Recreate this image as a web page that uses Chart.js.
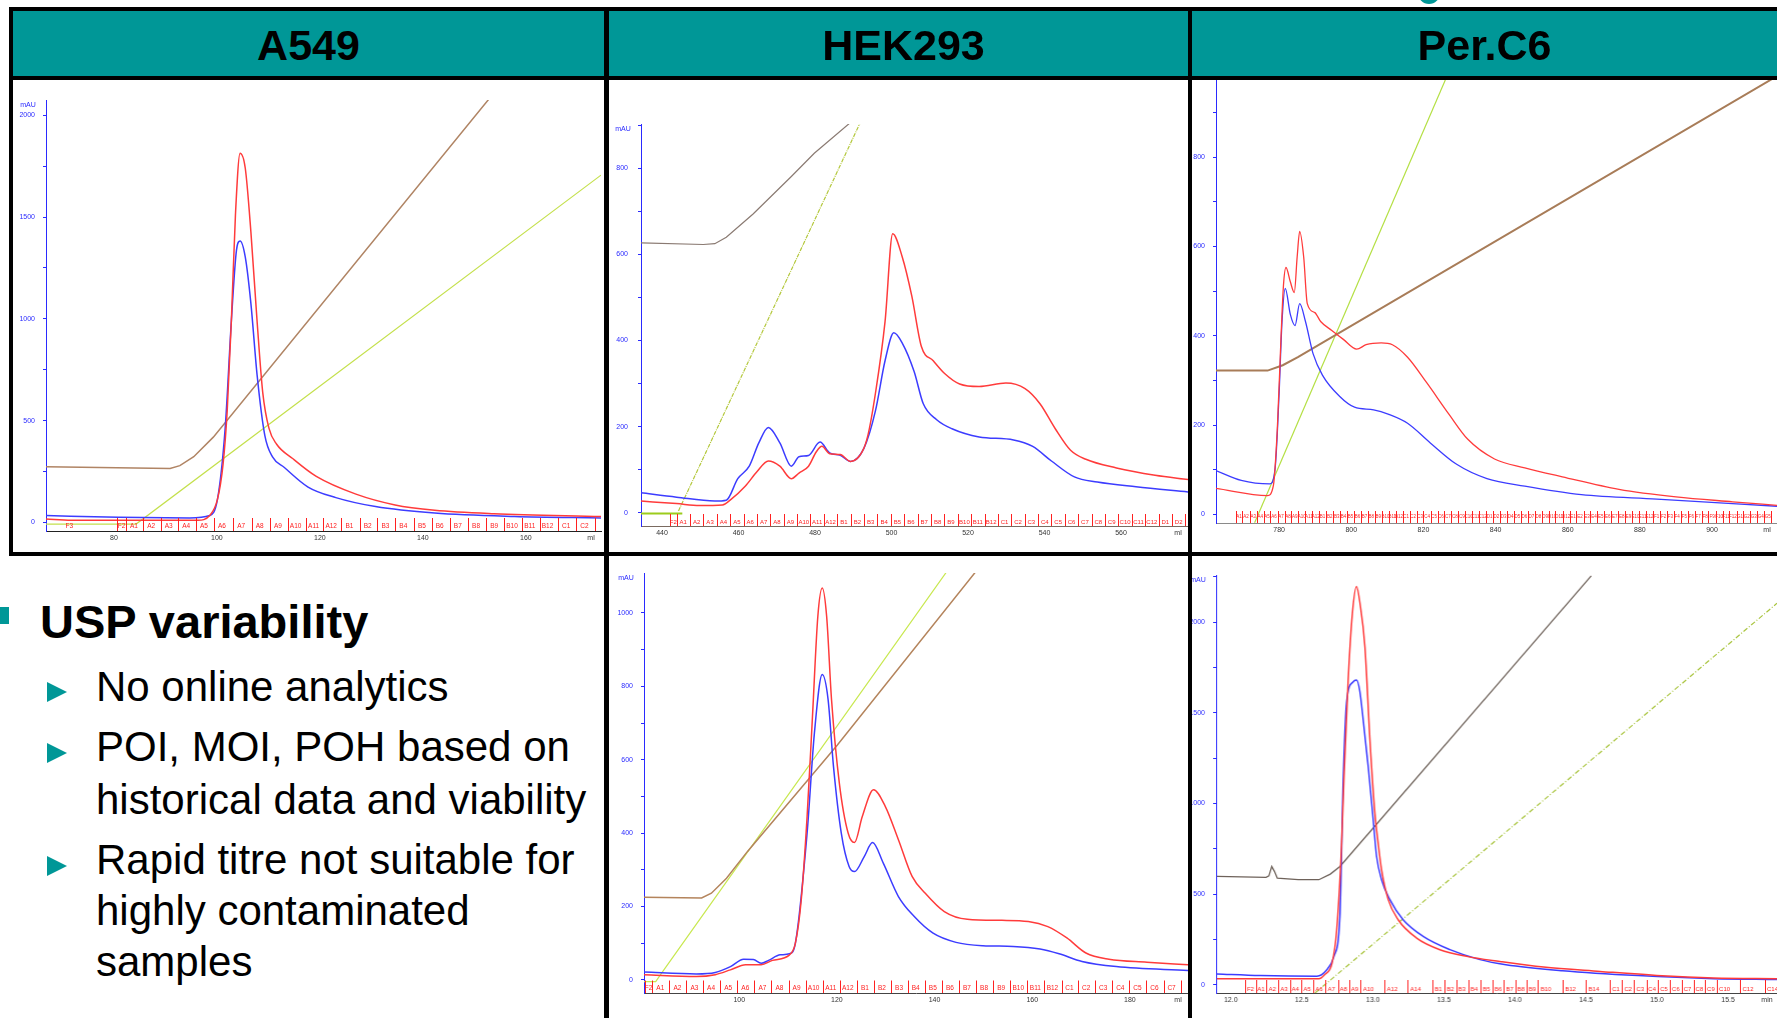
<!DOCTYPE html>
<html>
<head>
<meta charset="UTF-8">
<title>USP variability - chromatograms</title>
<script src="https://cdn.jsdelivr.net/npm/chart.js@4.4.1/dist/chart.umd.min.js"></script>
<style>
  body { margin: 0; width: 1777px; height: 1018px; overflow: hidden; background: #fff; position: relative;
         font-family: 'Liberation Sans', Arial, sans-serif; }
  canvas { position: absolute; z-index: 1; }
  .hdr { position: absolute; left: 13px; top: 11px; width: 1764px; height: 65px; background: #009797; z-index: 2; }
  .ln { position: absolute; background: #000; z-index: 3; }
  .ttl { position: absolute; top: 13px; height: 65px; line-height: 65px; font-size: 43px; font-weight: bold;
         text-align: center; z-index: 4; color: #000; }
  .dot { position: absolute; left: 1418px; top: -18px; width: 22px; height: 22px; border-radius: 50%; background: #009797; }
  .sq { position: absolute; left: 0; top: 607px; width: 9px; height: 17px; background: #009797; }
  .h1 { position: absolute; left: 40px; top: 598px; font-size: 47px; line-height: 47px; font-weight: bold; white-space: nowrap; }
  .tx { position: absolute; left: 96px; font-size: 42px; line-height: 42px; white-space: nowrap; }
  .tri { position: absolute; left: 47px; width: 0; height: 0; border-left: 20px solid #009797;
         border-top: 10px solid transparent; border-bottom: 10px solid transparent; }
</style>
</head>
<body>
<div class="dot"></div>
<canvas id="cA549"></canvas>
<canvas id="cHekTop"></canvas>
<canvas id="cPerTop"></canvas>
<canvas id="cHekBot"></canvas>
<canvas id="cPerBot"></canvas>

<div class="hdr"></div>
<div class="ttl" style="left:13px;width:591px">A549</div>
<div class="ttl" style="left:614px;width:579px">HEK293</div>
<div class="ttl" style="left:1192px;width:585px">Per.C6</div>

<div class="ln" style="left:9px;top:7px;width:1768px;height:4px"></div>
<div class="ln" style="left:9px;top:76px;width:1768px;height:4px"></div>
<div class="ln" style="left:9px;top:7px;width:4px;height:549px"></div>
<div class="ln" style="left:604px;top:7px;width:5px;height:1011px"></div>
<div class="ln" style="left:1188px;top:7px;width:4px;height:1011px"></div>
<div class="ln" style="left:9px;top:552px;width:1768px;height:4px"></div>

<div class="sq"></div>
<div class="h1">USP variability</div>
<div class="tri" style="top:682px"></div>
<div class="tri" style="top:743px"></div>
<div class="tri" style="top:856px"></div>
<div class="tx" style="top:666px">No online analytics</div>
<div class="tx" style="top:726px">POI, MOI, POH based on</div>
<div class="tx" style="top:779px">historical data and viability</div>
<div class="tx" style="top:839px">Rapid titre not suitable for</div>
<div class="tx" style="top:890px">highly contaminated</div>
<div class="tx" style="top:941px">samples</div>

<script>
// ---- A549 (ml vs mAU) ----
var a549Red = [[66.8,17],[71.7,11],[96.3,11],[98.6,34],[100.1,113],[101.2,288],[102,550],[102.8,988],[103.6,1513],
  [104.5,1814],[105.5,1741],[106.6,1426],[107.8,988],[108.9,638],[110.1,463],[111.6,384],[114.7,314],[119.3,226],
  [127,139],[134.6,86],[142.3,60],[153.8,43],[174.6,29]]
var a549Blue = [[66.8,34],[80.9,25],[94.7,22],[98.6,34],[100.1,113],[101.6,463],[102.8,988],[103.8,1338],[104.5,1382],
  [105.5,1304],[106.6,1075],[107.8,725],[109.3,428],[110.8,322],[113.1,270],[117.7,174],[123.1,122],[130.8,78],
  [142.3,46],[157.8,29],[174.6,22]]
var a549Cond = [[66.8,274],[90.9,265],[92.8,279],[95.5,323],[99.3,419],[153,2085]]
var a549Conc = [[66.8,-8],[84.3,-8],[174.6,1706]]
var a549XTicks = [80,100,120,140,160]
var a549YTicks = [0,250,500,750,1000,1250,1500,1750,2000]
var a549YLabels = [0,500,1000,1500,2000]
var a549FracAt = [62,80.64,82.33,85.69,89.07,92.49,95.92,99.42,103.17,106.74,110.29,113.73,117.22,120.64,124.19,127.73,
  131.18,134.64,138.25,141.71,145.24,148.78,152.31,155.77,159.22,162.66,166.27,169.81,173.34]
var a549FracLabels = ['F3','F2','A1','A2','A3','A4','A5','A6','A7','A8','A9','A10','A11','A12','B1','B2','B3','B4','B5',
  'B6','B7','B8','B9','B10','B11','B12','C1','C2','C3']

// ---- HEK293 top ----
var hekTopRed = [[434.5,27],[443.8,21],[449.8,16.5],[455.8,18],[457.8,29],[461.8,62],[464.8,95],[467.8,120],[470.8,108],
  [473.8,79],[475.8,92],[478.3,108],[480.3,141],[481.8,154],[483.8,137],[486.6,135],[489.3,119],[492.3,141],[493.8,179],
  [495.8,278],[498.3,444],[500.3,648],[502.8,594],[505.3,503],[507.8,386],[510.9,353],[513.8,324],[517.8,299],[522.9,293],
  [529.9,301],[534.9,288],[538.8,253],[542.8,195],[546.8,145],[550.8,124],[558.8,104],[568.9,87],[577.5,77]]
var hekTopBlue = [[434.5,46],[443.8,36],[453.8,27],[456.8,29],[459.8,79],[462.8,108],[465.3,162],[467.8,198],[470.8,162],
  [473.8,108],[475.8,130],[478.3,133],[481.3,164],[483.8,139],[486.6,133],[489.3,119],[492.8,150],[495.8,237],[498.3,353],
  [500.6,418],[502.8,394],[505.9,328],[508.3,253],[511.8,216],[515.8,195],[522.9,176],[531.9,169],[536.9,154],[541.8,120],
  [547.8,83],[553.8,71],[563.9,60],[577.5,48]]
var hekTopCond = [[434.5,627],[450.8,623],[453.8,625],[456.8,640],[463.8,694],[473.8,781],[479.8,835],[489.2,906]]
var hekTopBase = [[434.5,-2],[445.3,-2]]
var hekTopConc = [[444.3,4],[491.8,906]]
var hekTopXTicks = [440,460,480,500,520,540,560]
var hekTopYTicks = [0,100,200,300,400,500,600,700,800,900]
var hekTopYLabels = [0,200,400,600,800]
var hekTopFracAt = [442.1,443.8,447.3,450.8,454.3,457.8,461.3,464.8,468.3,471.8,475.3,478.8,482.3,485.8,489.3,492.8,
  496.3,499.8,503.3,506.8,510.3,513.8,517.3,520.8,524.3,527.8,531.3,534.8,538.3,541.8,545.3,548.8,552.3,555.8,559.3,
  562.8,566.3,569.8,573.3,576.8]
var hekTopFracLabels = ['F2','A1','A2','A3','A4','A5','A6','A7','A8','A9','A10','A11','A12','B1','B2','B3','B4','B5',
  'B6','B7','B8','B9','B10','B11','B12','C1','C2','C3','C4','C5','C6','C7','C8','C9','C10','C11','C12','D1','D2','D3']

// ---- Per.C6 top ----
var perTopRed = [[762.5,58],[776.8,42],[778.4,64],[779.5,192],[780.5,392],[781.2,513],[781.9,553],[783.1,521],[784.2,497],
  [785,577],[785.7,634],[786.8,577],[787.8,472],[789.9,452],[791.5,432],[794.6,412],[797.8,392],[801.5,370],[804.1,380],
  [808.3,384],[811.4,380],[815.6,352],[820.8,296],[827.1,224],[832.3,168],[839.7,124],[848.1,104],[858.5,84],[874.2,56],
  [890,39],[905.7,28],[918,20]]
var perTopBlue = [[762.5,98],[769.5,76],[777.4,68],[778.9,104],[780,272],[780.8,432],[781.7,506],[783.1,448],[784.4,423],
  [785.7,472],[787.3,432],[789.4,360],[792,312],[796.8,264],[800.9,240],[806.2,234],[810.4,224],[815.6,204],[821.9,160],
  [829.2,112],[837.6,80],[848.1,63],[863.8,44],[884.7,34],[918,18]]
var perTopCond = [[762.5,322],[776.8,322],[781,334],[785.2,352],[918,982]]
var perTopConc = [[773.2,-19],[828.5,1019]]
var perTopXTicks = [780,800,820,840,860,880,900]
var perTopYTicks = [0,100,200,300,400,500,600,700,800,900,1000]
var perTopYLabels = [0,200,400,600,800,1000]
var perTopFracAt = [768.0,769.8,771.9,773.8,775.7,777.6,779.6,781.5,783.4,785.3,
  787.3,789.2,791.1,793.0,795.0,796.9,798.8,800.8,802.7,804.6,
  806.5,808.5,810.4,812.3,814.2,816.2,818.1,820.0,822.0,823.9,
  825.8,827.7,829.7,831.6,833.5,835.4,837.4,839.3,841.2,843.2,
  845.1,847.0,848.9,850.9,852.8,854.7,856.6,858.6,860.5,862.4,
  864.4,866.3,868.2,870.1,872.1,874.0,875.9,877.8,879.8,881.7,
  883.6,885.6,887.5,889.4,891.3,893.3,895.2,897.1,899.0,901.0,
  902.9,904.8,906.8,908.7,910.6,912.5,914.5,916.4]
var perTopFracLabels = ('A1 A2 A3 A4 A5 A6 A7 A8 A9 A10 A11 A12 B1 B2 B3 B4 B5 B6 B7 B8 B9 B10 B11 B12 ' +
  'C1 C2 C3 C4 C5 C6 C7 C8 C9 C10 C11 C12 D1 D2 D3 D4 D5 D6 D7 D8 D9 D10 D11 D12 ' +
  'E1 E2 E3 E4 E5 E6 E7 E8 E9 E10 E11 E12 F1 F2 F3 F4 F5 F6 F7 F8 F9 F10 F11 F12 G1 G2 G3 G4 G5 G6').split(' ')

// ---- HEK293 bottom ----
var hekBotRed = [[80.5,14],[91.2,9],[95.1,14],[98.2,27],[101.3,41],[104.5,41],[106.8,53],[110.3,68],[111.5,100],
  [112.7,218],[113.9,445],[115,718],[116.1,991],[117,1068],[117.9,991],[118.9,764],[120.5,536],[122.3,400],[123.6,374],
  [125.2,445],[127.5,518],[129.9,473],[132.6,382],[135.4,282],[138.1,236],[142,186],[146.7,165],[153.8,162],[159.2,159],
  [163.2,145],[167.1,114],[171,73],[175.7,56],[183.5,48],[191.9,41]]
var hekBotBlue = [[80.5,21],[91.2,16],[95.1,20],[98.2,36],[100.9,56],[102.9,55],[104.5,45],[106,53],[108.4,68],
  [110.3,71],[111.5,100],[113.9,400],[115.4,673],[117,832],[118.2,764],[119.3,582],[120.9,400],[122.5,309],[123.6,295],
  [125.6,336],[127.3,374],[129.5,318],[132.6,227],[135.8,173],[139.7,127],[144.4,102],[149.9,93],[156.1,91],[161.6,84],
  [165.5,71],[170.2,50],[177.2,36],[191.9,25]]
var hekBotCond = [[80.5,225],[92.3,223],[94.3,236],[97.4,277],[101.7,350],[120.1,640],[148.4,1112]]
var hekBotConc = [[80.5,-5],[82.9,-5],[84.1,18],[142.4,1111]]
var hekBotXTicks = [100,120,140,160,180]
var hekBotYTicks = [0,100,200,300,400,500,600,700,800,900,1000]
var hekBotYLabels = [0,200,400,600,800,1000]
var hekBotFracAt = [80.7,82.2,85.7,89.2,92.6,96.1,99.6,103.1,106.6,110.1,113.6,117.1,120.6,124.1,127.6,131.1,134.5,
  138.0,141.5,145.0,148.5,152.0,155.5,159.0,162.5,166.0,169.4,172.9,176.4,179.9,183.4,186.9,190.4]
var hekBotFracLabels = ['F2','A1','A2','A3','A4','A5','A6','A7','A8','A9','A10','A11','A12','B1','B2','B3','B4','B5',
  'B6','B7','B8','B9','B10','B11','B12','C1','C2','C3','C4','C5','C6','C7','C8']

// ---- Per.C6 bottom (min vs mAU) ----
var perBotRed = [[11.902,33],[12.075,33],[12.62,33],[12.66,55],[12.713,120],[12.745,300],[12.779,762],[12.796,1130],
  [12.826,1681],[12.856,2050],[12.885,2196],[12.91,2100],[12.944,1865],[12.979,1351],[13.014,946],[13.037,781],
  [13.061,634],[13.108,469],[13.178,358],[13.308,257],[13.472,193],[13.66,156],[13.894,128],[14.201,97],[14.6,73],
  [14.999,51],[15.398,37],[15.845,33]]
var perBotBlue = [[11.902,59],[12.208,50],[12.606,46],[12.673,79],[12.726,156],[12.768,377],[12.791,1130],[12.815,1560],
  [12.86,1670],[12.885,1681],[12.908,1620],[12.932,1461],[12.967,1203],[13.002,910],[13.026,707],[13.061,579],
  [13.12,469],[13.213,358],[13.354,266],[13.542,193],[13.754,138],[13.936,110],[14.334,77],[14.866,50],[15.398,33],
  [15.845,28]]
var perBotCond = [[11.902,597],[12.248,592],[12.268,600],[12.288,652],[12.307,625],[12.327,588],[12.474,579],[12.62,579],
  [12.7,610],[12.768,652],[13.894,1672],[14.537,2255]]
var perBotConc = [[12.593,-46],[15.845,2104]]
var perBotXTicks = [12,12.5,13,13.5,14,14.5,15,15.5]
var perBotXLabels = ['12.0','12.5','13.0','13.5','14.0','14.5','15.0','15.5']
var perBotYTicks = [0,250,500,750,1000,1250,1500,1750,2000,2250]
var perBotYLabels = [0,500,1000,1500,2000]
var perBotFracAt = [12.101,12.176,12.248,12.335,12.415,12.495,12.58,12.665,12.753,12.832,12.912,13.08,13.244,13.418,
  13.505,13.585,13.67,13.755,13.843,13.923,14.002,14.082,14.162,14.335,14.499,14.667,14.754,14.839,14.925,15.004,
  15.092,15.172,15.257,15.339,15.419,15.584,15.757]
var perBotFracLabels = ['F2','A1','A2','A3','A4','A5','A6','A7','A8','A9','A10','A12','A14','B1','B2','B3','B4','B5',
  'B6','B7','B8','B9','B10','B12','B14','C1','C2','C3','C4','C5','C6','C7','C8','C9','C10','C12','C14']

var RED = '#ff3b3b', BLUE = '#3c3cff', AXBLUE = '#2a2aff'
var FONT = "'Liberation Sans', Arial, sans-serif"

// fraction marks, unit and mAU captions
var markPlugin = {
  id: 'marks',
  afterDatasetsDraw: function(chart, args, o) {
    var ctx = chart.ctx, a = chart.chartArea, x = chart.scales.x
    ctx.save()
    ctx.strokeStyle = '#ff2020'
    ctx.fillStyle = '#ff2020'
    ctx.lineWidth = 1
    ctx.font = o.size + 'px ' + FONT
    ctx.textAlign = 'center'
    ctx.textBaseline = 'middle'
    for (var i = 0; i < o.at.length; i++) {
      var px = x.getPixelForValue(o.at[i])
      var nx = i + 1 < o.at.length ? x.getPixelForValue(o.at[i + 1]) : px + (px - x.getPixelForValue(o.at[i - 1]))
      if (px >= a.left && px <= a.right) {
        ctx.beginPath()
        ctx.moveTo(Math.round(px) + 0.5, a.bottom)
        ctx.lineTo(Math.round(px) + 0.5, a.bottom - o.h)
        ctx.stroke()
      }
      var cx = px < a.left ? (px + nx) / 2 : px + Math.min((nx - px) / 2, 8)
      if (cx > a.left + 3 && cx < a.right - 3) ctx.fillText(o.labels[i], cx, a.bottom - o.ly)
    }
    ctx.font = '7px ' + FONT
    ctx.fillStyle = '#333'
    ctx.fillText(o.unit, a.right - 10, a.bottom + 7)
    ctx.fillStyle = AXBLUE
    ctx.fillText('mAU', a.left - 18, a.top + 5)
    ctx.restore()
  }
}

function pts(arr) { return arr.map(function(p) { return {x: p[0], y: p[1]} }) }

function build(id, s) {
  var W = 44, H = 20, PT = 20, PR = 20
  var cv = document.getElementById(id)
  var w = s.area[2] - s.area[0] + W + PR
  var h = s.area[3] - s.area[1] + PT + H
  cv.style.left = (s.area[0] - W) + 'px'
  cv.style.top = (s.area[1] - PT) + 'px'
  cv.width = w; cv.height = h
  cv.style.width = w + 'px'; cv.style.height = h + 'px'
  new Chart(cv, {
    type: 'line',
    data: {
      datasets: s.series.map(function(d) {
        return {
          data: pts(d.data), borderColor: d.color, borderWidth: d.width || 1.5, borderDash: d.dash || [],
          pointRadius: 0, fill: false, tension: 0,
          cubicInterpolationMode: d.straight ? 'default' : 'monotone'
        }
      })
    },
    options: {
      responsive: false, animation: false, devicePixelRatio: 1,
      layout: { padding: { top: PT, right: PR, left: 0, bottom: 0 } },
      plugins: {
        legend: { display: false }, tooltip: { enabled: false },
        marks: { at: s.fracAt, labels: s.fracLabels, h: s.markH || 12, ly: s.labelY || 4.5, size: s.fracSize || 6, unit: s.unit }
      },
      scales: {
        x: {
          type: 'linear', min: s.x[0], max: s.x[1],
          afterFit: function(sc) { sc.height = H },
          afterBuildTicks: function(sc) { sc.ticks = s.xTicks.map(function(v) { return {value: v} }) },
          ticks: {
            color: '#333', font: { size: 7, family: FONT }, padding: 3, maxRotation: 0, autoSkip: false,
            callback: function(v, i) { return s.xLabels ? s.xLabels[i] : String(v) }
          },
          grid: { display: false, drawTicks: false },
          border: { color: s.xAxisColor, width: 1 }
        },
        y: {
          type: 'linear', min: s.y[0], max: s.y[1],
          afterFit: function(sc) { sc.width = W },
          afterBuildTicks: function(sc) { sc.ticks = s.yTicks.map(function(v) { return {value: v} }) },
          ticks: {
            color: AXBLUE, font: { size: 7, family: FONT }, padding: s.yPad || 8, autoSkip: false,
            callback: function(v) { return s.yLabels.indexOf(v) >= 0 ? String(v) : '' }
          },
          grid: { display: true, drawOnChartArea: false, drawTicks: true, tickLength: 3, color: AXBLUE },
          border: { color: AXBLUE, width: 1 }
        }
      }
    },
    plugins: [markPlugin]
  })
}

build('cA549', {
  area: [46, 100, 601, 531], x: [66.8, 174.6], y: [-42, 2075],
  xTicks: a549XTicks, yTicks: a549YTicks, yLabels: a549YLabels, unit: 'ml', xAxisColor: '#222',
  fracAt: a549FracAt, fracLabels: a549FracLabels, markH: 13, labelY: 4.5, fracSize: 6.5,
  series: [
    { data: a549Red, color: RED }, { data: a549Blue, color: BLUE },
    { data: a549Cond, color: '#b08464', straight: true }, { data: a549Conc, color: '#c4e04c', width: 1.2, straight: true }
  ]
})

build('cHekTop', {
  area: [641, 124, 1188, 526], x: [434.5, 577.5], y: [-31, 903],
  xTicks: hekTopXTicks, yTicks: hekTopYTicks, yLabels: hekTopYLabels, unit: 'ml', xAxisColor: '#7a6a60', yPad: 10,
  fracAt: hekTopFracAt, fracLabels: hekTopFracLabels, markH: 12, labelY: 4, fracSize: 6,
  series: [
    { data: hekTopRed, color: RED }, { data: hekTopBlue, color: BLUE },
    { data: hekTopCond, color: '#8a7a72', width: 1.2, straight: true },
    { data: hekTopBase, color: '#9ccc1c', width: 2, straight: true },
    { data: hekTopConc, color: '#b4c83c', width: 1.2, dash: [4, 1, 1, 1], straight: true }
  ]
})

build('cPerTop', {
  area: [1216, 60, 1777, 523], x: [762.5, 918], y: [-19.5, 1018],
  xTicks: perTopXTicks, yTicks: perTopYTicks, yLabels: perTopYLabels, unit: 'ml', xAxisColor: '#8a8a8a',
  fracAt: perTopFracAt, fracLabels: perTopFracLabels, markH: 12, labelY: 6, fracSize: 4.5,
  series: [
    { data: perTopRed, color: RED, width: 1.3 }, { data: perTopBlue, color: BLUE, width: 1.3 },
    { data: perTopCond, color: '#a87c58', width: 2, straight: true },
    { data: perTopConc, color: '#b4e044', width: 1.2, straight: true }
  ]
})

build('cHekBot', {
  area: [643.6, 573.3, 1188, 993.3], x: [80.5, 191.9], y: [-36, 1109],
  xTicks: hekBotXTicks, yTicks: hekBotYTicks, yLabels: hekBotYLabels, unit: 'ml', xAxisColor: '#444',
  fracAt: hekBotFracAt, fracLabels: hekBotFracLabels, markH: 12.5, labelY: 5, fracSize: 6.5,
  series: [
    { data: hekBotRed, color: RED }, { data: hekBotBlue, color: BLUE },
    { data: hekBotCond, color: '#b4845c', straight: true },
    { data: hekBotConc, color: '#c8e850', width: 1.2, straight: true }
  ]
})

build('cPerBot', {
  area: [1216.3, 575, 1777, 993.3], x: [11.896, 15.845], y: [-46, 2260],
  xTicks: perBotXTicks, xLabels: perBotXLabels, yTicks: perBotYTicks, yLabels: perBotYLabels, unit: 'min',
  xAxisColor: '#444', fracAt: perBotFracAt, fracLabels: perBotFracLabels, markH: 13, labelY: 4, fracSize: 6,
  series: [
    { data: perBotRed, color: RED }, { data: perBotBlue, color: BLUE },
    { data: perBotCond, color: '#6e625a', width: 1.3, straight: true },
    { data: perBotConc, color: '#a8c43c', width: 1.2, dash: [5, 2, 1, 2], straight: true }
  ]
})
</script>
</body>
</html>
